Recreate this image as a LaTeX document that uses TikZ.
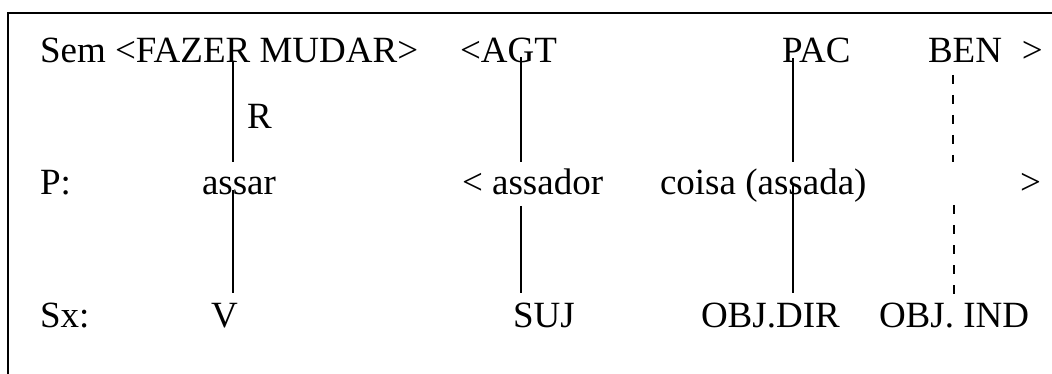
\documentclass[tikz,border=0pt]{standalone}
\usepackage{fontspec}
\setmainfont{Liberation Serif}
\tikzset{
  lbl/.style={anchor=base west, inner sep=0pt, outer sep=0pt, font=\fontsize{37pt}{44pt}\selectfont},
  link/.style={line width=2pt},
  dlink/.style={line width=2pt, dash pattern=on 9pt off 11pt},
  frame/.style={line width=2pt}
}
\begin{document}
\begin{tikzpicture}[x=1pt, y=-1pt]
\useasboundingbox (0,0) rectangle (1052,374);
% frame (top and left edges)
\coordinate (ftl) at (8,13);
\coordinate (ftr) at (1052,13);
\coordinate (fbl) at (8,374);
\draw[frame] (ftr) -- (ftl) -- (fbl);
% row Sem
\node[lbl] (sem) at (40,63) {Sem <FAZER MUDAR>};
\node[lbl] (agt) at (460,63) {<AGT};
\node[lbl] (pac) at (782,63) {PAC};
\node[lbl] (ben) at (928,63) {BEN\hspace{20pt}>};
\node[lbl] (r) at (247,129) {R};
% row P
\node[lbl] (p) at (40,195) {P:};
\node[lbl] (assar) at (202,195) {assar};
\node[lbl] (assador) at (462,195) {< assador};
\node[lbl] (coisa) at (660,195) {coisa (assada)};
\node[lbl] (pend) at (1020,195) {>};
% row Sx
\node[lbl] (sx) at (40,327) {Sx:};
\node[lbl] (v) at (211,327) {V};
\node[lbl] (suj) at (513,327) {SUJ};
\node[lbl] (objdir) at (701,327) {OBJ.DIR};
\node[lbl] (objind) at (879,327) {OBJ. IND};
% connector end points
\coordinate (a1) at (233,62);  \coordinate (a2) at (233,162);
\coordinate (a3) at (233,190); \coordinate (a4) at (233,293);
\coordinate (b1) at (521,57);  \coordinate (b2) at (521,162);
\coordinate (b3) at (521,206); \coordinate (b4) at (521,293);
\coordinate (c1) at (793,58);  \coordinate (c2) at (793,162);
\coordinate (c3) at (793,185); \coordinate (c4) at (793,293);
\coordinate (d1) at (953,75);  \coordinate (d2) at (953,162);
\coordinate (d3) at (954,205); \coordinate (d4) at (954,297);
\draw[link] (a1) -- (a2);
\draw[link] (a3) -- (a4);
\draw[link] (b1) -- (b2);
\draw[link] (b3) -- (b4);
\draw[link] (c1) -- (c2);
\draw[link] (c3) -- (c4);
\draw[dlink] (d1) -- (d2);
\draw[dlink] (d3) -- (d4);
\end{tikzpicture}
\end{document}
